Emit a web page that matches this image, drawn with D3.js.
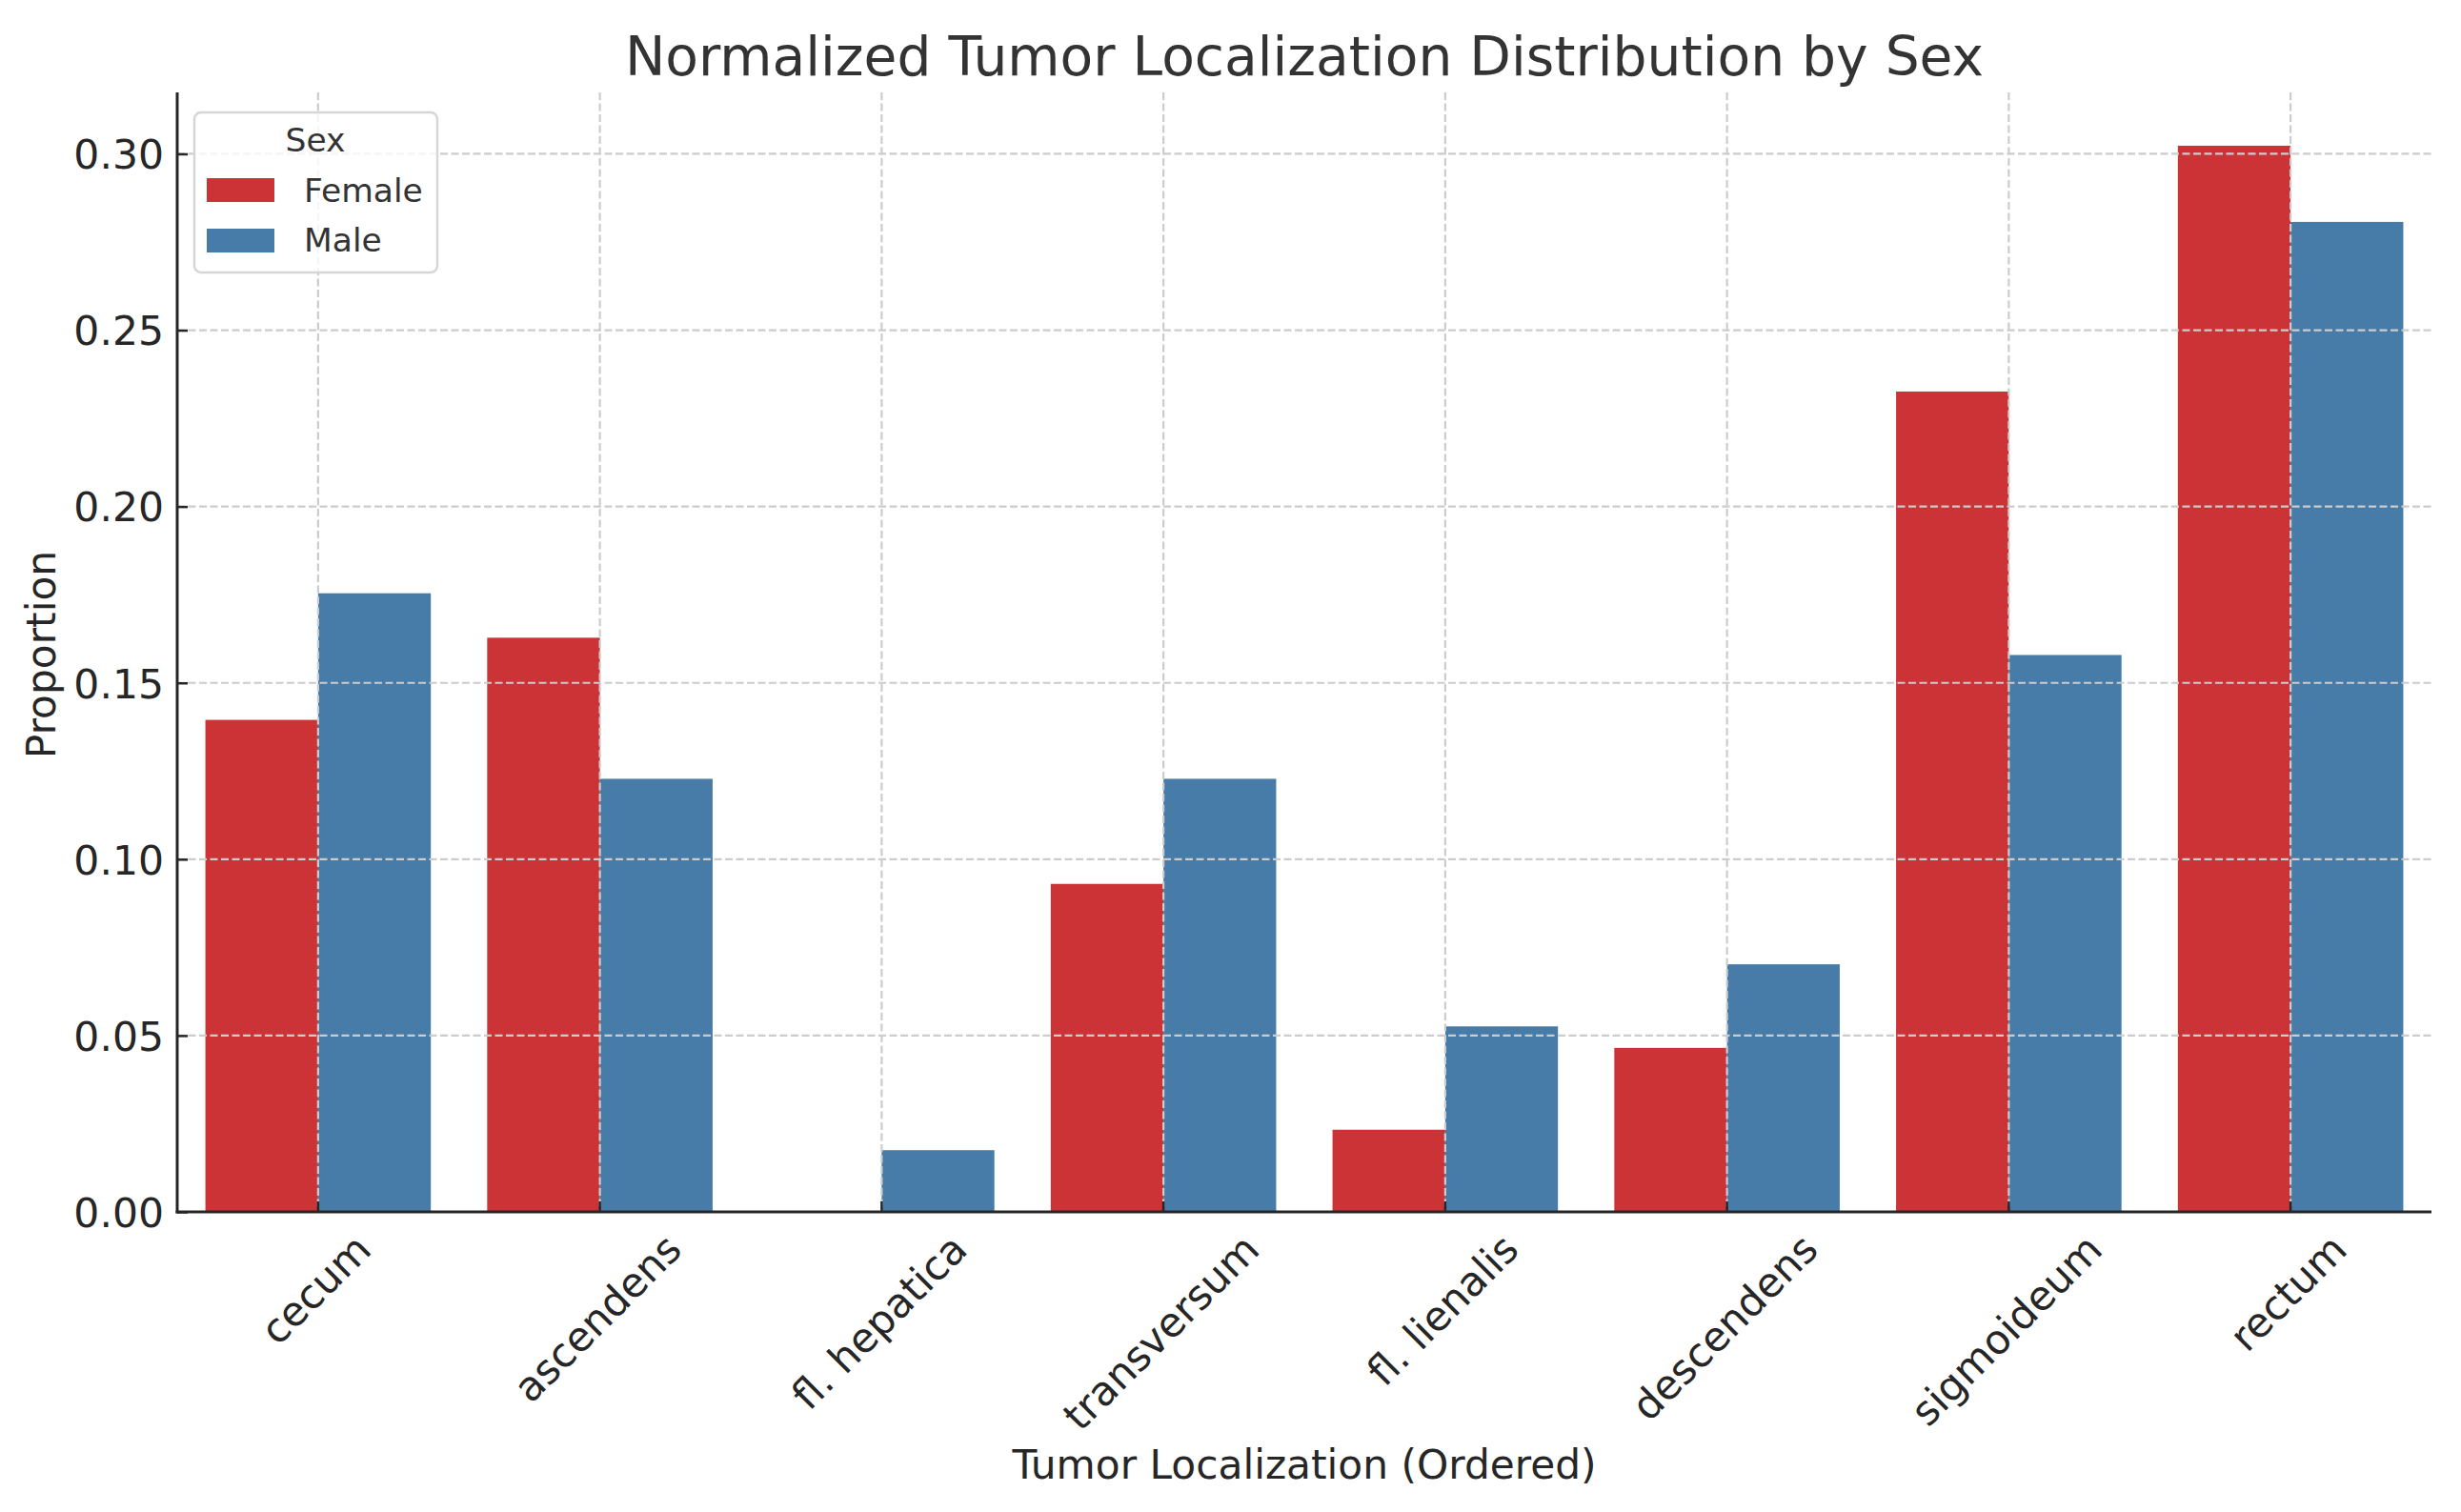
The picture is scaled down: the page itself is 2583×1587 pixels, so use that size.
<!DOCTYPE html>
<html>
<head>
<meta charset="utf-8">
<script src="https://cdn.jsdelivr.net/npm/d3@7"></script>
<style>
  html, body { margin: 0; padding: 0; background: #ffffff; }
  svg { display: block; font-family: "DejaVu Sans", sans-serif; }
</style>
</head>
<body>
<svg id="chart" width="2583" height="1587"></svg>
<script>
// ---- data ----
const categories = ["cecum", "ascendens", "fl. hepatica", "transversum", "fl. lienalis", "descendens", "sigmoideum", "rectum"];
const seriesNames = ["Female", "Male"];
const femaleValues = [0.1395, 0.1628, 0.0, 0.0930, 0.0233, 0.0465, 0.2326, 0.3023];
const maleValues   = [0.1754, 0.1228, 0.0175, 0.1228, 0.0526, 0.0702, 0.1579, 0.2807];
const yTickValues = [0.00, 0.05, 0.10, 0.15, 0.20, 0.25, 0.30];
const yTickLabels = ["0.00", "0.05", "0.10", "0.15", "0.20", "0.25", "0.30"];
const titleText = "Normalized Tumor Localization Distribution by Sex";
const xLabelText = "Tumor Localization (Ordered)";
const yLabelText = "Proportion";
const legendTitle = "Sex";

// ---- layout ----
const plot = { left: 186, right: 2552, top: 97, bottom: 1272 };
const colors = { Female: "#cb3336", Male: "#477ca8" };
const textColor = "#262626";
const gridColor = "#cccccc";
const tickFont = 42.5;

const svg = d3.select("#chart");

const rows = categories.map((c, i) => ({ cat: c, Female: femaleValues[i], Male: maleValues[i] }));
const maxVal = d3.max(rows, d => Math.max(d.Female, d.Male));

const x = d3.scaleBand().domain(categories).range([plot.left, plot.right]).paddingInner(0).paddingOuter(0);
const bw = x.bandwidth();
const xSub = d3.scaleBand().domain(seriesNames).range([0.1 * bw, 0.9 * bw]).padding(0);
const y = d3.scaleLinear().domain([0, maxVal * 1.05]).range([plot.bottom, plot.top]);

// ---- bars ----
const gBars = svg.append("g");
gBars.selectAll("g.cat").data(rows).join("g")
  .attr("class", "cat")
  .attr("transform", d => `translate(${x(d.cat)},0)`)
  .selectAll("rect")
  .data(d => seriesNames.map(s => ({ s, v: d[s] })))
  .join("rect")
  .attr("x", d => xSub(d.s))
  .attr("width", xSub.bandwidth())
  .attr("y", d => y(d.v))
  .attr("height", d => y(0) - y(d.v))
  .attr("fill", d => colors[d.s]);

// ---- grid (drawn over bars) ----
const gGrid = svg.append("g");
gGrid.selectAll("line.hg").data(yTickValues).join("line")
  .attr("x1", plot.left).attr("x2", plot.right)
  .attr("y1", d => y(d)).attr("y2", d => y(d))
  .attr("stroke", gridColor).attr("stroke-width", 2.2).attr("stroke-dasharray", "8,3.5");
gGrid.selectAll("line.vg").data(categories).join("line")
  .attr("x1", d => x(d) + bw / 2).attr("x2", d => x(d) + bw / 2)
  .attr("y1", plot.top).attr("y2", plot.bottom)
  .attr("stroke", gridColor).attr("stroke-width", 2.2).attr("stroke-dasharray", "8,3.5");

// ---- y axis ----
const yAxis = d3.axisLeft(y).tickValues(yTickValues)
  .tickFormat((d, i) => yTickLabels[i]).tickSizeInner(-11).tickSizeOuter(0).tickPadding(14);
const gy = svg.append("g").attr("transform", `translate(${plot.left},0)`).call(yAxis);
gy.select(".domain").remove();
gy.selectAll(".tick line").attr("stroke", textColor).attr("stroke-width", 2.5);
gy.selectAll(".tick text").attr("fill", textColor).attr("font-size", tickFont)
  .attr("font-family", "DejaVu Sans").attr("dy", "0.36em");

// ---- x axis ----
const xAxis = d3.axisBottom(x).tickSizeInner(-11).tickSizeOuter(0).tickFormat("");
const gx = svg.append("g").attr("transform", `translate(0,${plot.bottom})`).call(xAxis);
gx.select(".domain").remove();
gx.selectAll(".tick line").attr("stroke", textColor).attr("stroke-width", 2.5);

// rotated x tick labels (bounding box centred under tick, top below the axis)
const labelTop = plot.bottom + 19;
const gxl = svg.append("g");
categories.forEach(c => {
  const t = gxl.append("text")
    .attr("font-size", tickFont).attr("fill", textColor)
    .attr("text-anchor", "middle").attr("dy", "0.262em")
    .text(c);
  const w = t.node().getComputedTextLength();
  const h = tickFont * 1.0;
  const boxH = (w + h) * Math.SQRT1_2;
  const cx = x(c) + bw / 2;
  const cy = labelTop + boxH / 2;
  t.attr("transform", `translate(${cx},${cy}) rotate(-45)`);
});

// ---- spines ----
svg.append("line").attr("x1", plot.left).attr("x2", plot.left)
  .attr("y1", plot.top).attr("y2", plot.bottom + 1.5)
  .attr("stroke", textColor).attr("stroke-width", 3);
svg.append("line").attr("x1", plot.left - 1.5).attr("x2", plot.right)
  .attr("y1", plot.bottom).attr("y2", plot.bottom)
  .attr("stroke", textColor).attr("stroke-width", 3);

// ---- titles ----
const cxPlot = (plot.left + plot.right) / 2;
svg.append("text").attr("x", cxPlot).attr("y", 79)
  .attr("text-anchor", "middle").attr("font-size", 56.7).attr("fill", "#333333")
  .text(titleText);
svg.append("text").attr("x", cxPlot).attr("y", 1552)
  .attr("text-anchor", "middle").attr("font-size", 42.3).attr("fill", textColor)
  .text(xLabelText);
svg.append("text").attr("transform", `translate(58,687) rotate(-90)`)
  .attr("text-anchor", "middle").attr("font-size", 42.3).attr("fill", textColor)
  .text(yLabelText);

// ---- legend ----
const lg = svg.append("g");
lg.append("rect").attr("x", 204).attr("y", 118).attr("width", 255).attr("height", 168)
  .attr("rx", 7).attr("ry", 7)
  .attr("fill", "#ffffff").attr("fill-opacity", 0.8)
  .attr("stroke", "#d6d6d6").attr("stroke-width", 2.5);
lg.append("text").attr("x", 331).attr("y", 159).attr("text-anchor", "middle")
  .attr("font-size", 34.5).attr("fill", "#333333").text(legendTitle);
const legendRows = [
  { y0: 187, base: 212 },
  { y0: 240, base: 264 }
];
seriesNames.forEach((s, i) => {
  const r = legendRows[i];
  lg.append("rect").attr("x", 217).attr("y", r.y0).attr("width", 71).attr("height", 25)
    .attr("fill", colors[s]);
  lg.append("text").attr("x", 319).attr("y", r.base).attr("font-size", 34.5)
    .attr("fill", "#333333").text(s);
});
</script>
</body>
</html>
